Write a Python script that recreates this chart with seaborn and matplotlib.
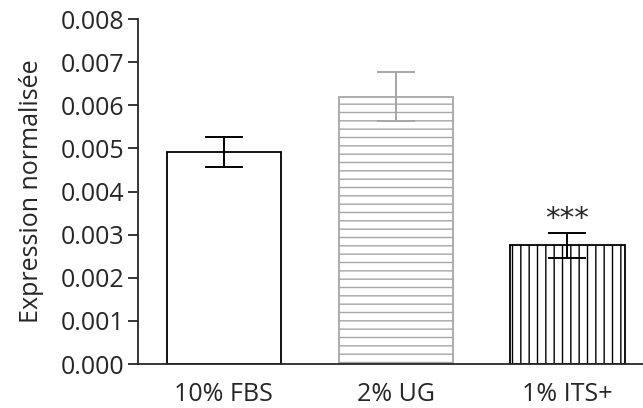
import matplotlib
matplotlib.use("Agg")
import matplotlib.pyplot as plt
import seaborn as sns
import pandas as pd

# Culture conditions and normalised expression (mean ± SEM)
conditions = ["10% FBS", "2% UG", "1% ITS+"]
means = [0.00492, 0.00620, 0.00275]
sems = [0.00035, 0.00057, 0.00029]
y_ticks = [0.000, 0.001, 0.002, 0.003, 0.004, 0.005, 0.006, 0.007, 0.008]
y_tick_labels = ["0.000", "0.001", "0.002", "0.003", "0.004",
                 "0.005", "0.006", "0.007", "0.008"]
significance = ["", "", "***"]

sns.set_style("ticks")
plt.rcParams["font.family"] = ["Open Sans", "DejaVu Sans"]
plt.rcParams["hatch.linewidth"] = 1.0

df = pd.DataFrame({"condition": conditions, "mean": means, "sem": sems})

fig = plt.figure(figsize=(6.43, 4.08), dpi=100)
ax = fig.add_axes([0.2146, 0.1078, 0.7854, 0.8456])

sns.barplot(data=df, x="condition", y="mean", order=conditions,
            errorbar=None, width=0.665, ax=ax, color="white")

edge_colors = ["black", "#a6a6a6", "black"]
hatches = [None, "--", "||"]
for patch, ec, h in zip(ax.patches, edge_colors, hatches):
    patch.set_facecolor("white")
    patch.set_edgecolor(ec)
    patch.set_linewidth(1.3)
    if h:
        patch.set_hatch(h)

for i, (m, s) in enumerate(zip(means, sems)):
    ax.errorbar(i, m, yerr=s, fmt="none", ecolor=edge_colors[i],
                elinewidth=1.4, capsize=14, capthick=1.4, zorder=5)
    if significance[i]:
        ax.text(i, m + s + 0.00032, significance[i], ha="center",
                va="center", fontsize=21, family=["DejaVu Sans"])

ax.set_xlim(-0.5, 2.44)
ax.set_ylim(0, 0.008)
ax.set_yticks(y_ticks)
ax.set_yticklabels(y_tick_labels)
ax.set_xlabel("")
ax.set_ylabel("Expression normalisée", fontsize=18, labelpad=12)
ax.tick_params(axis="y", length=7, width=1.3, labelsize=18, pad=3)
ax.tick_params(axis="x", length=0, labelsize=18, pad=13)
for side in ["left", "bottom"]:
    ax.spines[side].set_linewidth(1.3)
sns.despine(ax=ax)

fig.savefig("out.png", dpi=100)
